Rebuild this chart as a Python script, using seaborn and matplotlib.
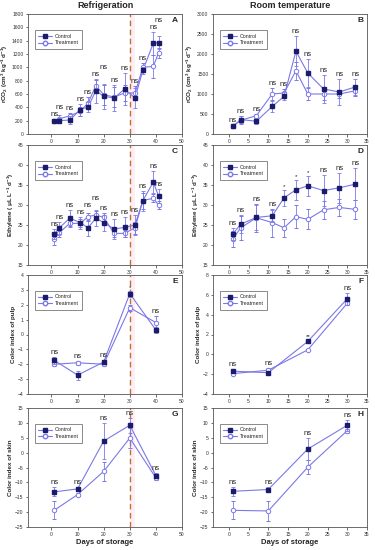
import numpy as np
import pandas as pd
import matplotlib
matplotlib.use("Agg")
import matplotlib.pyplot as plt
import seaborn as sns

# ---------------- data ----------------
days_ref_gas = [1, 3, 7, 11, 14, 17, 20, 24, 28, 32, 35, 39, 41]
days_room_gas = [1, 3, 7, 11, 14, 17, 20, 24, 28, 32]
days_ref_col = [1, 10, 20, 30, 40]
days_room_col = [1, 10, 20, 30]

co2_ref_control = [200, 200, 210, 365, 405, 650, 565, 540, 675, 540, 955, 1360, 1370]
co2_ref_control_err = [30, 40, 65, 90, 80, 180, 190, 190, 240, 150, 50, 170, 100]
co2_ref_treat = [190, 230, 270, 340, 465, 725, 590, 555, 615, 615, 1000, 1015, 1215]
co2_ref_treat_err = [30, 50, 50, 70, 90, 90, 150, 150, 120, 100, 60, 170, 70]

co2_room_control = [190, 360, 320, 690, 940, 2070, 1525, 1125, 1050, 1175]
co2_room_control_err = [30, 80, 60, 130, 100, 380, 350, 350, 330, 200]
co2_room_treat = [190, 340, 460, 1000, 1025, 1580, 1000, 1000, 1000, 1080]
co2_room_treat_err = [30, 100, 50, 150, 90, 220, 150, 150, 100, 120]

eth_ref_control = [22.7, 24.3, 26.7, 25.6, 24.3, 26.7, 25.6, 24.0, 24.4, 25.0, 31.1, 35.7, 32.3]
eth_ref_control_err = [1.2, 1.5, 2.0, 1.5, 2.0, 2.0, 2.0, 2.5, 2.5, 2.5, 2.5, 2.7, 1.8]
eth_ref_treat = [21.4, 23.1, 25.4, 25.4, 27.1, 27.5, 26.9, 22.9, 22.9, 24.3, 31.1, 31.7, 30.0]
eth_ref_treat_err = [1.5, 1.2, 1.0, 1.0, 1.0, 1.0, 1.0, 0.8, 0.8, 1.5, 2.0, 1.0, 1.0]

eth_room_control = [22.7, 25.2, 26.9, 27.3, 31.8, 33.8, 34.8, 33.6, 34.3, 35.2]
eth_room_control_err = [1.5, 2.3, 3.2, 1.5, 2.0, 2.5, 2.5, 3.8, 3.8, 4.0]
eth_room_treat = [21.4, 24.3, 26.8, 25.6, 24.3, 27.1, 26.4, 28.8, 29.4, 28.9]
eth_room_treat_err = [2.0, 3.0, 3.5, 3.5, 2.2, 2.8, 2.5, 2.2, 2.2, 2.3]

pulp_ref_control = [-1.73, -2.73, -1.85, 2.75, 0.3]
pulp_ref_control_err = [0.25, 0.3, 0.15, 0.2, 0.2]
pulp_ref_treat = [-2.0, -1.9, -2.0, 1.8, 0.8]
pulp_ref_treat_err = [0.1, 0.15, 0.1, 0.2, 0.45]

pulp_room_control = [-1.7, -1.85, 1.3, 5.6]
pulp_room_control_err = [0.2, 0.2, 0.15, 0.6]
pulp_room_treat = [-1.95, -1.6, 0.45, 5.15]
pulp_room_treat_err = [0.15, 0.2, 0.1, 0.2]

skin_ref_control = [-13.2, -12.2, 3.9, 9.2, -7.7]
skin_ref_control_err = [1.5, 0.7, 6.0, 2.5, 0.8]
skin_ref_treat = [-19.4, -14.1, -6.3, 4.9, -8.5]
skin_ref_treat_err = [3.0, 0.5, 3.2, 3.5, 0.6]

skin_room_control = [-13.0, -12.4, 1.2, 9.2]
skin_room_control_err = [1.5, 1.0, 3.7, 1.8]
skin_room_treat = [-19.4, -19.6, -4.9, 7.4]
skin_room_treat_err = [3.0, 3.5, 2.3, 0.7]

sig_A = ["ns"] * 13
sig_B = ["ns"] * 10
sig_C = ["ns"] * 13
sig_D = ["ns"] * 4 + ["*"] * 3 + ["ns"] * 3
sig_E = ["ns", "ns", "ns", "*", "ns"]
sig_F = ["ns", "ns", "**", "ns"]
sig_G = ["ns"] * 5
sig_H = ["ns"] * 4

# ---------------- style ----------------
sns.set_theme(style="ticks")
plt.rcParams["font.family"] = ["Liberation Sans", "DejaVu Sans"]
plt.rcParams["mathtext.fontset"] = "custom"
plt.rcParams["mathtext.rm"] = "Liberation Sans"
plt.rcParams["mathtext.bf"] = "Liberation Sans:bold"
plt.rcParams["mathtext.it"] = "Liberation Sans:italic"

LINE = "#7b78e8"
NAVY = "#1b1b6b"

fig = plt.figure(figsize=(3.75, 5.5), dpi=100)
W, H = 375.0, 550.0

rows_px = [(14, 134), (145, 265), (275, 394), (408, 527)]
cols_px = [(28, 182), (213, 367)]


def make_ax(r, c):
    (t, b), (l, rr) = rows_px[r], cols_px[c]
    return fig.add_axes([l / W, 1 - b / H, (rr - l) / W, (b - t) / H])


co2_label = r"$\mathbf{rCO_2\ (cm^3\ kg^{-1}\ d^{-1})}$"
eth_label = r"$\mathbf{Ethylene\ (\ \mu L\ L^{-1}\ d^{-1})}$"

panels = [
    (0, 0, "A", days_ref_gas, co2_ref_control, co2_ref_control_err, co2_ref_treat, co2_ref_treat_err, sig_A,
     (0, 1800), np.arange(0, 1801, 200), co2_label, True),
    (0, 1, "B", days_room_gas, co2_room_control, co2_room_control_err, co2_room_treat, co2_room_treat_err, sig_B,
     (0, 3000), np.arange(0, 3001, 500), co2_label, False),
    (1, 0, "C", days_ref_gas, eth_ref_control, eth_ref_control_err, eth_ref_treat, eth_ref_treat_err, sig_C,
     (15, 45), np.arange(15, 46, 5), eth_label, True),
    (1, 1, "D", days_room_gas, eth_room_control, eth_room_control_err, eth_room_treat, eth_room_treat_err, sig_D,
     (15, 45), np.arange(15, 46, 5), eth_label, False),
    (2, 0, "E", days_ref_col, pulp_ref_control, pulp_ref_control_err, pulp_ref_treat, pulp_ref_treat_err, sig_E,
     (-4, 4), np.arange(-4, 5, 1), "Color index of pulp", True),
    (2, 1, "F", days_room_col, pulp_room_control, pulp_room_control_err, pulp_room_treat, pulp_room_treat_err, sig_F,
     (-4, 8), np.arange(-4, 9, 2), "Color index of pulp", False),
    (3, 0, "G", days_ref_col, skin_ref_control, skin_ref_control_err, skin_ref_treat, skin_ref_treat_err, sig_G,
     (-25, 15), np.arange(-25, 16, 5), "Color index of skin", True),
    (3, 1, "H", days_room_col, skin_room_control, skin_room_control_err, skin_room_treat, skin_room_treat_err, sig_H,
     (-25, 15), np.arange(-25, 16, 5), "Color index of skin", False),
]

for (r, c, letter, days, ctl, ctl_e, trt, trt_e, sig, ylim, yticks, ylabel, refrig) in panels:
    ax = make_ax(r, c)
    n = len(days)
    df = pd.DataFrame({"day": list(days) * 2,
                       "value": list(ctl) + list(trt),
                       "group": ["Control"] * n + ["Treatment"] * n})
    sns.lineplot(data=df, x="day", y="value", hue="group",
                 palette={"Control": LINE, "Treatment": LINE},
                 linewidth=0.8, legend=False, ax=ax, errorbar=None)
    ax.errorbar(days, ctl, yerr=ctl_e, fmt="s", ms=2.6, mfc=NAVY, mec=NAVY,
                ecolor=LINE, elinewidth=0.6, capsize=1.6, capthick=0.6, zorder=4)
    ax.errorbar(days, trt, yerr=trt_e, fmt="o", ms=3.2, mfc="white", mec=LINE, mew=0.7,
                ecolor=LINE, elinewidth=0.6, capsize=1.6, capthick=0.6, zorder=3)

    if refrig:
        xlim = (-9, 50)
        ax.set_xticks(np.arange(0, 51, 10))
        ax.axvspan(30, 32, color="#ffc8dc", alpha=0.3, lw=0, zorder=0)
        ax.axvline(30, color="#b8733a", lw=1.0, ls=(0, (4, 2.5)), zorder=1)
    else:
        xlim = (-4, 35)
        ax.set_xticks(np.arange(0, 36, 5))
    ax.set_xlim(*xlim)

    # significance labels, nudged upward when they would collide with the previous one
    span = ylim[1] - ylim[0]
    text_h = span * 0.055
    x_per_px = (xlim[1] - xlim[0]) / 154.0
    prev = None
    for d, a, ae, b, be, s in zip(days, ctl, ctl_e, trt, trt_e, sig):
        y = max(a + ae, b + be) + span * 0.008
        if prev is not None and abs(d - prev[0]) < 9 * x_per_px and abs(y - prev[1]) < text_h:
            y = prev[1] + text_h
        ax.text(d, y, s, ha="center", va="bottom",
                fontsize=5.5 if s == "ns" else 4.5, color="#222222")
        prev = (d, y)

    ax.set_ylim(*ylim)
    ax.set_yticks(yticks)
    ax.tick_params(labelsize=3.6, length=1.8, width=0.5, pad=1.5, colors="#333333")
    for sp in ax.spines.values():
        sp.set_linewidth(0.6)
        sp.set_color("#555555")
        sp.set_visible(True)
    ax.set_ylabel(ylabel, fontsize=4.5, fontweight="bold", labelpad=1.5)
    if r == 3:
        ax.set_xlabel("Days of storage", fontsize=5.5, fontweight="bold", labelpad=2)
    else:
        ax.set_xlabel("")
    if r == 0:
        ax.set_title("Refrigeration" if refrig else "Room temperature",
                     fontsize=6.5, fontweight="bold", pad=4)
    ax.text(0.975, 0.945, letter, transform=ax.transAxes, ha="right", va="center",
            fontsize=6, fontweight="bold")

    h1 = plt.Line2D([], [], color=LINE, lw=0.8, marker="s", ms=2.6, mfc=NAVY, mec=NAVY)
    h2 = plt.Line2D([], [], color=LINE, lw=0.8, marker="o", ms=3.2, mfc="white", mec=LINE)
    leg = ax.legend([h1, h2], ["Control", "Treatment"], loc="upper left",
                    bbox_to_anchor=(0.03, 0.885), fontsize=3.8, frameon=True,
                    fancybox=False, edgecolor="#333333", handlelength=2.6,
                    borderpad=0.6, labelspacing=0.35, handletextpad=0.5)
    leg.get_frame().set_linewidth(0.5)

fig.savefig("out.png", dpi=100)
